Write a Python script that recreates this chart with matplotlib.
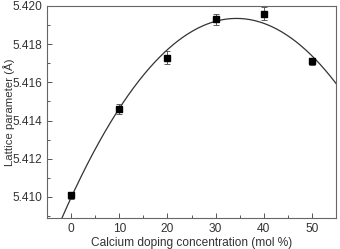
import numpy as np
import matplotlib.pyplot as plt
from matplotlib.ticker import MultipleLocator

# data
ca_mol = [0, 10, 20, 30, 40, 50]
lattice = [5.4101, 5.4146, 5.4173, 5.4193, 5.4196, 5.4171]
err = [0.00018, 0.00028, 0.00033, 0.00030, 0.00033, 0.00020]

plt.rcParams['font.family'] = ['Liberation Sans', 'DejaVu Sans']

fig = plt.figure(figsize=(3.4, 2.49), dpi=100)
ax = fig.add_axes([47/340, 31/249, 289/340, 212/249])

# quadratic fit line
coef = np.polyfit(ca_mol, lattice, 2)
xf = np.linspace(-5, 55, 300)
ax.plot(xf, np.polyval(coef, xf), color='#333333', lw=0.9)

ax.errorbar(ca_mol, lattice, yerr=err, fmt='s', color='black', ms=5,
            ecolor='#444444', elinewidth=0.6, capsize=2, capthick=0.6)

ax.set_xlim(-5, 55)
ax.set_ylim(5.4089, 5.420)
ax.xaxis.set_major_locator(MultipleLocator(10))
ax.xaxis.set_minor_locator(MultipleLocator(5))
ax.yaxis.set_major_locator(MultipleLocator(0.002))
ax.yaxis.set_minor_locator(MultipleLocator(0.001))
ax.yaxis.set_major_formatter(plt.FormatStrFormatter('%.3f'))
ax.tick_params(which='both', direction='in', colors='#555555', labelcolor='#333333',
               labelsize=8.6, width=0.7)
ax.tick_params(which='major', length=3.5)
ax.tick_params(which='minor', length=2)
for s in ax.spines.values():
    s.set_color('#666666')
    s.set_linewidth(0.8)

ax.set_xlabel('Calcium doping concentration (mol %)', fontsize=8.6, color='#333333')
ax.set_ylabel('Lattice parameter (Å)', fontsize=8.2, color='#333333')
ax.xaxis.set_label_coords(0.5, -19/212)
ax.yaxis.set_label_coords(-32/289, 0.5)

fig.savefig('out.png', dpi=100)
